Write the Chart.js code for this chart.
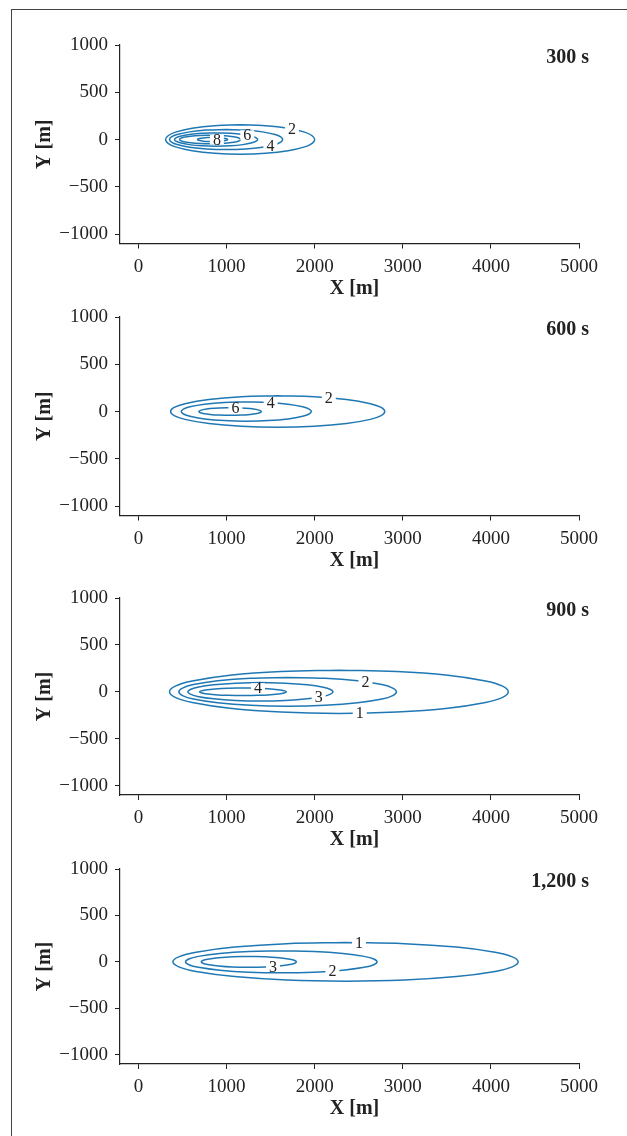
<!DOCTYPE html>
<html>
<head>
<meta charset="utf-8">
<script src="https://cdn.jsdelivr.net/npm/chart.js@4.4.1/dist/chart.umd.min.js"></script>
<style>
  html, body { margin: 0; padding: 0; background: #fff; }
  body { width: 627px; height: 1136px; position: relative; overflow: hidden; }
  .frame { position: absolute; left: 11px; top: 9px; width: 700px; height: 1200px;
           border-left: 1.5px solid #444; border-top: 1.5px solid #444; }
  .panel { position: absolute; left: 0; width: 627px; height: 290px; }
</style>
</head>
<body>
<div class="frame"></div>
<div class="panel" style="top:20px"><canvas id="p300" width="627" height="290"></canvas></div>
<div class="panel" style="top:292px"><canvas id="p600" width="627" height="290"></canvas></div>
<div class="panel" style="top:573px"><canvas id="p900" width="627" height="290"></canvas></div>
<div class="panel" style="top:844px"><canvas id="p1200" width="627" height="290"></canvas></div>

<script>
const xTicks = [0, 1000, 2000, 3000, 4000, 5000];
const yTicks = [-1000, -500, 0, 500, 1000];
const panelTimes = ["300 s", "600 s", "900 s", "1,200 s"];

// upper half of each contour, left end -> right end, [x, y] in metres
const upper300 = [
  [[307,0],[336,40],[420,78],[609,119],[864,146],[1154,155],[1443,146],[1698,119],[1887,78],[1971,40],[2000,0]],
  [[352,0],[374,27],[438,53],[581,81],[774,100],[994,106],[1214,100],[1407,81],[1550,53],[1614,27],[1636,0]],
  [[409,0],[425,18],[472,35],[577,54],[719,66],[881,70],[1042,66],[1184,54],[1289,35],[1336,18],[1352,0]],
  [[466,0],[478,12],[512,23],[590,34],[694,42],[813,45],[931,42],[1035,34],[1113,23],[1147,12],[1159,0]],
  [[670,0],[676,6],[693,11],[731,17],[782,21],[841,22],[899,21],[950,17],[988,11],[1005,6],[1011,0]]
];
const labels300 = [[1742,110,"2"], [1235,45,"6"], [1497,-66,"4"], [890,0,"8"]];

const upper600 = [
  [[364,0],[405,43],[527,83],[798,127],[1164,156],[1580,166],[1995,156],[2361,127],[2632,83],[2754,43],[2795,0]],
  [[485,0],[510,26],[584,51],[749,78],[971,96],[1224,102],[1476,96],[1698,78],[1863,51],[1937,26],[1962,0]],
  [[685,0],[697,10],[733,20],[812,31],[918,38],[1040,40],[1161,38],[1267,31],[1347,20],[1382,10],[1394,0]]
];
const labels600 = [[2160,145,"2"], [1500,92,"4"], [1100,36,"6"]];

const upper900 = [
  [[352,0],[417,60],[610,115],[1038,176],[1617,216],[2275,230],[2932,216],[3511,176],[3939,115],[4132,60],[4197,0]],
  [[458,0],[500,40],[624,77],[899,117],[1271,144],[1693,153],[2115,144],[2487,117],[2763,77],[2886,40],[2928,0]],
  [[560,0],[588,25],[670,49],[854,75],[1102,92],[1384,98],[1666,92],[1914,75],[2098,49],[2180,25],[2208,0]],
  [[693,0],[710,10],[759,20],[869,31],[1017,38],[1186,40],[1354,38],[1502,31],[1612,20],[1661,10],[1678,0]]
];
const labels900 = [[2511,-228,"1"], [2576,110,"2"], [2045,-57,"3"], [1356,38,"4"]];

const upper1200 = [
  [[390,0],[457,54],[653,104],[1090,159],[1680,196],[2350,208],[3020,196],[3610,159],[4047,104],[4243,54],[4310,0]],
  [[534,0],[571,31],[680,59],[922,90],[1249,111],[1621,118],[1993,111],[2320,90],[2562,59],[2671,31],[2708,0]],
  [[712,0],[730,15],[784,29],[905,44],[1067,55],[1252,58],[1437,55],[1599,44],[1720,29],[1774,15],[1792,0]]
];
const labels1200 = [[2503,207,"1"], [2201,-100,"2"], [1527,-50,"3"]];

const lineColor = "#1f78b4";
const textColor = "#222";
const serif = "'Liberation Serif', 'DejaVu Serif', serif";

// closed loop: top middle -> left end -> bottom -> right end -> top middle
function loop(upper) {
  const top = upper.slice(0, 6).reverse();
  const bottom = upper.slice(1, 10).map(p => [p[0], -p[1]]);
  const back = upper.slice(5, 11).reverse();
  return [...top, ...bottom, ...back].map(p => ({ x: p[0], y: p[1] }));
}

function fmt(v) {
  return v < 0 ? "\u2212" + Math.abs(v) : String(v);
}

function panelText(labels, time) {
  return {
    id: "panelText",
    afterDatasetsDraw(chart) {
      const { ctx, chartArea, scales } = chart;
      ctx.save();
      ctx.font = "16px " + serif;
      ctx.textAlign = "center";
      ctx.textBaseline = "middle";
      labels.forEach(([x, y, t]) => {
        const px = scales.x.getPixelForValue(x);
        const py = scales.y.getPixelForValue(y);
        const w = ctx.measureText(t).width;
        ctx.fillStyle = "#fff";
        ctx.fillRect(px - w / 2 - 3, py - 5, w + 6, 10);
        ctx.fillStyle = textColor;
        ctx.fillText(t, px, py + 1);
      });
      ctx.font = "bold 20px " + serif;
      ctx.textAlign = "right";
      ctx.fillText(time, chartArea.right + 10, chartArea.top + 13);
      ctx.restore();
    }
  };
}

function makePanel(id, uppers, labels, time, padBottom) {
  new Chart(document.getElementById(id), {
    type: "scatter",
    data: {
      datasets: uppers.map(u => ({
        data: loop(u),
        showLine: true,
        borderColor: lineColor,
        borderWidth: 1.5,
        pointRadius: 0,
        tension: 0.4,
        fill: false
      }))
    },
    options: {
      responsive: false,
      animation: false,
      layout: { padding: { top: 25, left: 0, right: 48, bottom: padBottom } },
      plugins: {
        legend: { display: false },
        tooltip: { enabled: false }
      },
      scales: {
        x: {
          type: "linear",
          min: -210,
          max: 5000,
          afterBuildTicks: s => { s.ticks = xTicks.map(v => ({ value: v })); },
          afterFit: s => { s.height = 62; },
          ticks: {
            color: textColor,
            padding: 7,
            maxRotation: 0,
            font: { family: serif, size: 19 },
            callback: v => fmt(v)
          },
          grid: { drawOnChartArea: false, drawTicks: true, tickLength: 5, color: textColor },
          border: { display: true, color: textColor, width: 1.2 },
          title: {
            display: true,
            text: "\u2002X [m]",
            color: textColor,
            padding: { top: 0, bottom: 5 },
            font: { family: serif, size: 20, weight: "bold" }
          }
        },
        y: {
          type: "linear",
          min: -1100,
          max: 1000,
          afterBuildTicks: s => { s.ticks = yTicks.map(v => ({ value: v })); },
          afterFit: s => { s.width = 120; },
          ticks: {
            color: textColor,
            padding: 7,
            font: { family: serif, size: 19 },
            callback: v => fmt(v)
          },
          grid: { drawOnChartArea: false, drawTicks: true, tickLength: 5, color: textColor },
          border: { display: true, color: textColor, width: 1.2 },
          title: {
            display: true,
            text: "Y [m]",
            color: textColor,
            padding: { top: 33, bottom: 0 },
            font: { family: serif, size: 20, weight: "bold" }
          }
        }
      }
    },
    plugins: [panelText(labels, time)]
  });
}

document.addEventListener("DOMContentLoaded", () => {
  makePanel("p300", upper300, labels300, panelTimes[0], 4.5);
  makePanel("p600", upper600, labels600, panelTimes[1], 4.5);
  makePanel("p900", upper900, labels900, panelTimes[2], 6);
  makePanel("p1200", upper1200, labels1200, panelTimes[3], 8);
});
</script>
</body>
</html>
